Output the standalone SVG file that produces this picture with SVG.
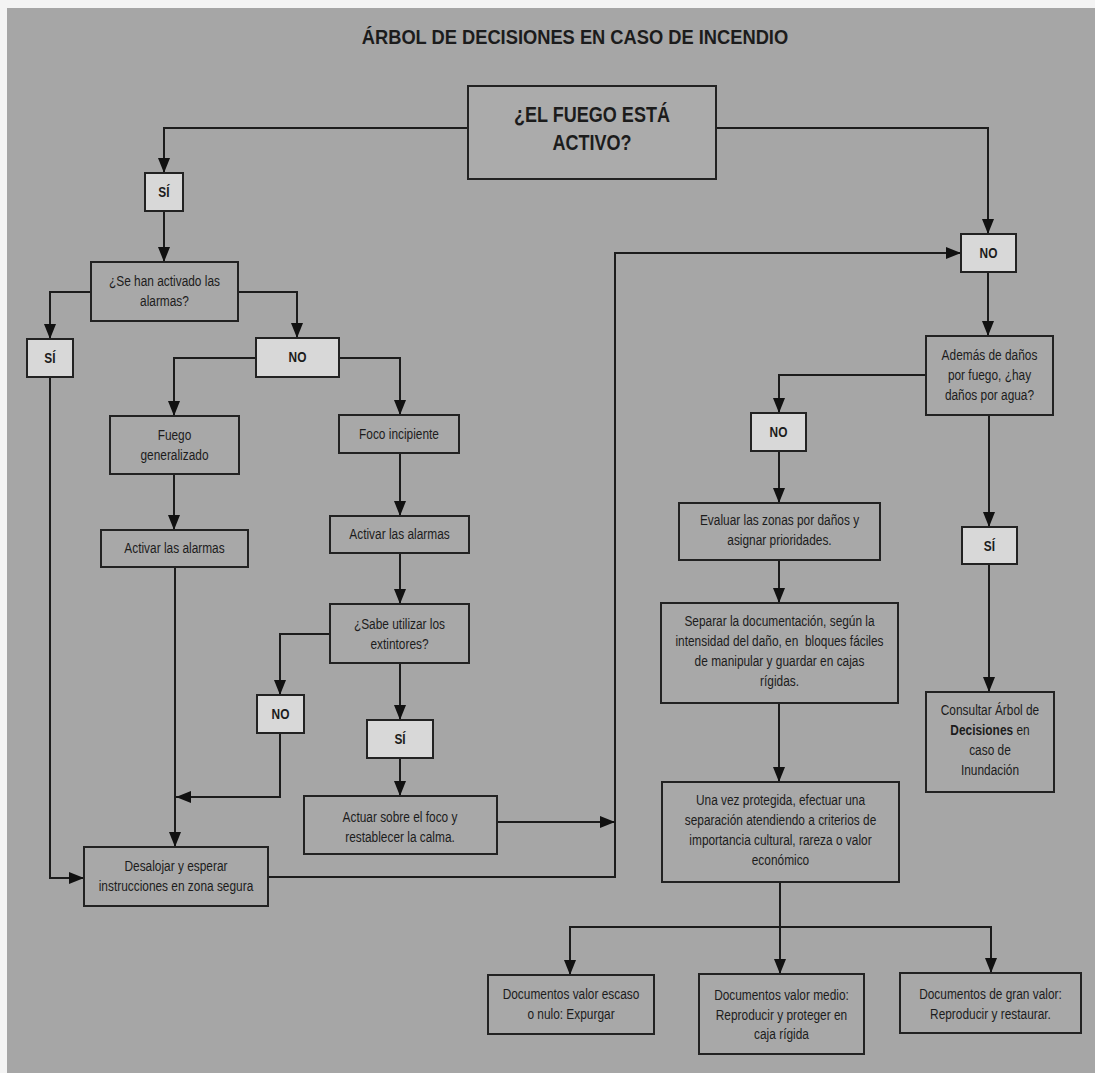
<svg xmlns="http://www.w3.org/2000/svg" width="1095" height="1073" viewBox="0 0 1095 1073">
<style>
.bg{fill:#a6a6a6}
.box{fill:#a8a8a8;stroke:#222;stroke-width:2}
.lbl{fill:#d8d8d8;stroke:#222;stroke-width:2}
.main{fill:#ababab;stroke:#222;stroke-width:2}
text{font-family:"Liberation Sans",Arial,sans-serif;fill:#1c1c1c;text-anchor:middle;font-size:14.5px}
.b{font-weight:bold}
.t{font-size:21px;font-weight:bold}
.m{font-size:22px;font-weight:bold}
.c path{fill:none;stroke:#1c1c1c;stroke-width:2;marker-end:url(#ah)}
</style>
<defs>
<marker id="ah" viewBox="0 0 15 12" refX="15" refY="6" markerWidth="15" markerHeight="12" markerUnits="userSpaceOnUse" orient="auto">
<path d="M0,0 L15,6 L0,12 z" fill="#111"/>
</marker>
</defs>
<rect width="1095" height="1073" fill="#f4f4f4"/>
<rect class="bg" x="7" y="8" width="1088" height="1065"/>
<g transform="scale(0.82 1)"><text class="t" x="701.2" y="44" textLength="520" lengthAdjust="spacingAndGlyphs">ÁRBOL DE DECISIONES EN CASO DE INCENDIO</text></g>

<g class="c" id="connectors">
<path d="M468,128 H164 V173"/>
<path d="M716,128 H988 V234"/>
<path d="M164,211 V262"/>
<path d="M91,292 H50 V339"/>
<path d="M238,292 H297 V338"/>
<path d="M256,358 H174 V416"/>
<path d="M339,358 H400 V415"/>
<path d="M174,474 V530"/>
<path d="M400,453 V516"/>
<path d="M400,553 V604"/>
<path d="M330,634 H280 V695"/>
<path d="M400,663 V720"/>
<path d="M400,758 V796"/>
<path d="M280,733 V797 H176"/>
<path d="M175,567 V847"/>
<path d="M50,377 V878 H84"/>
<path d="M268,877 H615 V253 H961"/>
<path d="M497,822 H615"/>
<path d="M988,272 V336"/>
<path d="M926,375 H779 V413"/>
<path d="M989,415 V527"/>
<path d="M779,451 V503"/>
<path d="M779,560 V603"/>
<path d="M779,703 V782"/>
<path d="M989,564 V692"/>
<path d="M780,882 V974"/>
<path d="M780,927 H570 V975"/>
<path d="M780,927 H991 V973"/>
</g>

<g id="n_main"><rect class="main" x="468" y="86" width="248" height="93"/><g transform="scale(0.82 1)"><text class="m" x="721.95" y="122">¿EL FUEGO ESTÁ</text><text class="m" x="721.95" y="150">ACTIVO?</text></g></g>
<g id="n_si1"><rect class="lbl" x="145" y="173" width="38" height="38"/><g transform="scale(0.82 1)"><text class="b" x="200" y="197">SÍ</text></g></g>
<g id="n_alarmas"><rect class="box" x="91" y="262" width="147" height="59"/><g transform="scale(0.82 1)"><text x="200.61" y="286">¿Se han activado las</text><text x="200.61" y="306">alarmas?</text></g></g>
<g id="n_si2"><rect class="lbl" x="27" y="339" width="46" height="38"/><g transform="scale(0.82 1)"><text class="b" x="60.98" y="363">SÍ</text></g></g>
<g id="n_no1"><rect class="lbl" x="256" y="338" width="83" height="39"/><g transform="scale(0.82 1)"><text class="b" x="362.8" y="362">NO</text></g></g>
<g id="n_fuego"><rect class="box" x="110" y="416" width="129" height="58"/><g transform="scale(0.82 1)"><text x="212.8" y="440">Fuego</text><text x="212.8" y="460">generalizado</text></g></g>
<g id="n_foco"><rect class="box" x="339" y="415" width="120" height="38"/><g transform="scale(0.82 1)"><text x="486.59" y="439">Foco incipiente</text></g></g>
<g id="n_activar_l"><rect class="box" x="101" y="530" width="147" height="37"/><g transform="scale(0.82 1)"><text x="212.8" y="553">Activar las alarmas</text></g></g>
<g id="n_activar_r"><rect class="box" x="330" y="516" width="139" height="37"/><g transform="scale(0.82 1)"><text x="487.2" y="539">Activar las alarmas</text></g></g>
<g id="n_sabe"><rect class="box" x="330" y="604" width="139" height="59"/><g transform="scale(0.82 1)"><text x="487.2" y="629">¿Sabe utilizar los</text><text x="487.2" y="649">extintores?</text></g></g>
<g id="n_no2"><rect class="lbl" x="257" y="695" width="47" height="38"/><g transform="scale(0.82 1)"><text class="b" x="342.07" y="719">NO</text></g></g>
<g id="n_si3"><rect class="lbl" x="367" y="720" width="66" height="38"/><g transform="scale(0.82 1)"><text class="b" x="487.8" y="744">SÍ</text></g></g>
<g id="n_actuar"><rect class="box" x="304" y="796" width="193" height="58"/><g transform="scale(0.82 1)"><text x="487.8" y="822">Actuar sobre el foco y</text><text x="487.8" y="842">restablecer la calma.</text></g></g>
<g id="n_desalojar"><rect class="box" x="84" y="847" width="184" height="59"/><g transform="scale(0.82 1)"><text x="214.63" y="871">Desalojar y esperar</text><text x="214.63" y="891">instrucciones en zona segura</text></g></g>
<g id="n_no3"><rect class="lbl" x="961" y="234" width="55" height="38"/><g transform="scale(0.82 1)"><text class="b" x="1205.49" y="258">NO</text></g></g>
<g id="n_ademas"><rect class="box" x="926" y="336" width="127" height="79"/><g transform="scale(0.82 1)"><text x="1206.71" y="360">Además de daños</text><text x="1206.71" y="380">por fuego, ¿hay</text><text x="1206.71" y="400">daños por agua?</text></g></g>
<g id="n_no4"><rect class="lbl" x="751" y="413" width="55" height="38"/><g transform="scale(0.82 1)"><text class="b" x="949.39" y="437">NO</text></g></g>
<g id="n_evaluar"><rect class="box" x="679" y="503" width="201" height="57"/><g transform="scale(0.82 1)"><text x="950.61" y="525">Evaluar las zonas por daños y</text><text x="950.61" y="545">asignar prioridades.</text></g></g>
<g id="n_si4"><rect class="lbl" x="962" y="527" width="55" height="37"/><g transform="scale(0.82 1)"><text class="b" x="1206.71" y="551">SÍ</text></g></g>
<g id="n_separar"><rect class="box" x="661" y="603" width="237" height="100"/><g transform="scale(0.82 1)"><text x="950.61" y="626">Separar la documentación, según la</text><text x="950.61" y="646" xml:space="preserve">intensidad del daño, en  bloques fáciles</text><text x="950.61" y="666">de manipular y guardar en cajas</text><text x="950.61" y="686">rígidas.</text></g></g>
<g id="n_consultar"><rect class="box" x="926" y="692" width="128" height="100"/><g transform="scale(0.82 1)"><text x="1207.32" y="715">Consultar Árbol de</text><text x="1207.32" y="735"><tspan class="b">Decisiones</tspan> en</text><text x="1207.32" y="755">caso de</text><text x="1207.32" y="775">Inundación</text></g></g>
<g id="n_unavez"><rect class="box" x="662" y="782" width="237" height="100"/><g transform="scale(0.82 1)"><text x="951.83" y="805">Una vez protegida, efectuar una</text><text x="951.83" y="825">separación atendiendo a criterios de</text><text x="951.83" y="845">importancia cultural, rareza o valor</text><text x="951.83" y="865">económico</text></g></g>
<g id="n_doc1"><rect class="box" x="488" y="975" width="166" height="59"/><g transform="scale(0.82 1)"><text x="696.34" y="999">Documentos valor escaso</text><text x="696.34" y="1019">o nulo: Expurgar</text></g></g>
<g id="n_doc2"><rect class="box" x="699" y="974" width="165" height="80"/><g transform="scale(0.82 1)"><text x="953.05" y="1000">Documentos valor medio:</text><text x="953.05" y="1020">Reproducir y proteger en</text><text x="953.05" y="1039">caja rígida</text></g></g>
<g id="n_doc3"><rect class="box" x="900" y="973" width="181" height="60"/><g transform="scale(0.82 1)"><text x="1207.93" y="999">Documentos de gran valor:</text><text x="1207.93" y="1019">Reproducir y restaurar.</text></g></g>
</svg>
